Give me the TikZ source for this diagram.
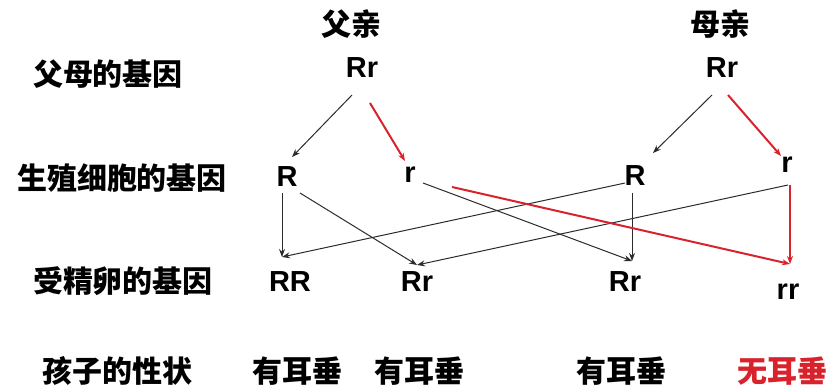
\documentclass[tikz,border=0pt]{standalone}
\usepackage{fontspec}
\setmainfont{Liberation Sans}
\newfontfamily\cjk{Noto Sans CJK SC}
\usetikzlibrary{arrows.meta}

\definecolor{earRed}{HTML}{D8232C}
\definecolor{earLine}{HTML}{2B2B2B}

\tikzset{
  gene/.style={inner sep=0pt,font=\fontsize{29}{29}\selectfont\bfseries},
  rowlab/.style={inner sep=0pt,font=\fontsize{30}{30}\selectfont\cjk\bfseries},
  cross/.style={earLine,line width=1pt,-{Stealth[length=8pt,width=6pt]}},
  crossred/.style={earRed,line width=2pt,-{Stealth[length=8pt,width=6pt]}}
}

\begin{document}
\begin{tikzpicture}[x=1pt,y=-1pt]
  \path[use as bounding box] (0,0) rectangle (836,391);
  % row labels
  \node[rowlab] (labP)  at (108,74)  {父母的基因};
  \node[rowlab] (labG)  at (122,178) {生殖细胞的基因};
  \node[rowlab] (labZ)  at (123,281) {受精卵的基因};
  \node[rowlab] (labT)  at (117,371) {孩子的性状};
  % parents
  \node[rowlab] (dad) at (351,24) {父亲};
  \node[rowlab] (mom) at (720,24) {母亲};
  \node[gene] (fRr) at (362,68) {Rr};
  \node[gene] (mRr) at (722,68) {Rr};
  % gametes
  \node[gene] (fR) at (287,177) {R};
  \node[gene] (fr) at (410,175) {r};
  \node[gene] (mR) at (635,176) {R};
  \node[gene] (mr) at (787,165) {r};
  % zygotes
  \node[gene] (zRR)  at (290,282) {RR};
  \node[gene] (zRra) at (417,282) {Rr};
  \node[gene] (zRrb) at (625,282) {Rr};
  \node[gene] (zrr)  at (788,292) {rr};
  % traits
  \node[rowlab] (tA) at (297,371) {有耳垂};
  \node[rowlab] (tB) at (419,371) {有耳垂};
  \node[rowlab] (tC) at (621,371) {有耳垂};
  \node[rowlab,text=earRed] (tD) at (782,371) {无耳垂};
  % ports where the arrows meet
  \coordinate (RRin)  at ([shift={(-8,-25)}]zRR.center);
  \coordinate (Rrain) at ([shift={(0,-17)}]zRra.center);
  \coordinate (Rrbin) at ([shift={(7,-21)}]zRrb.center);
  \coordinate (rrin)  at ([shift={(2,-28)}]zrr.center);
  % parents -> gametes
  \draw[cross]    ([shift={(-10,27)}]fRr.center) -- ([shift={(5,-20)}]fR.center);
  \draw[crossred] ([shift={(8,35)}]fRr.center)   -- ([shift={(-5,-14)}]fr.center);
  \draw[cross]    ([shift={(-10,27)}]mRr.center) -- ([shift={(18,-23)}]mR.center);
  \draw[crossred] ([shift={(6,27)}]mRr.center)   -- ([shift={(-6,-9)}]mr.center);
  % gametes -> zygotes
  \draw[cross] ([shift={(-5,16)}]fR.center)  -- (RRin);
  \draw[cross] ([shift={(13,16)}]fR.center)  -- (Rrain);
  \draw[cross] ([shift={(13,8)}]fr.center)   -- (Rrbin);
  \draw[cross] ([shift={(-10,7)}]mR.center)  -- (RRin);
  \draw[cross] ([shift={(-3,17)}]mR.center)  -- (Rrbin);
  \draw[cross] ([shift={(1,20)}]mr.center)   -- (Rrain);
  \draw[crossred] ([shift={(42,12)}]fr.center) -- (rrin);
  \draw[crossred] ([shift={(3,20)}]mr.center)  -- (rrin);
\end{tikzpicture}
\end{document}
